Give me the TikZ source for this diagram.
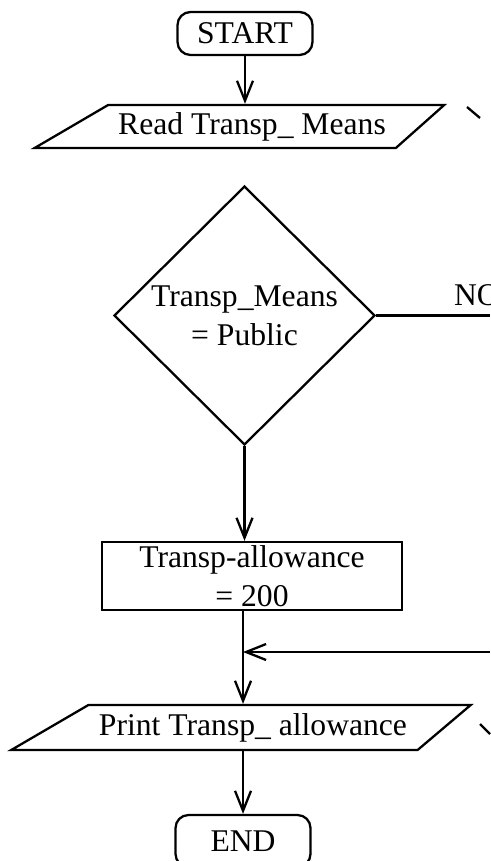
\documentclass[tikz,border=0pt]{standalone}
\usepackage{fontspec}
\setmainfont{Liberation Serif}
\usetikzlibrary{shapes.geometric,arrows.meta}

\begin{document}
\begin{tikzpicture}[x=0.02cm,y=-0.02cm,
	font=\fontsize{18}{22}\selectfont,
	line width=1.3pt,
	every node/.style={inner sep=0pt},
	terminal/.style={draw,rounded corners=0.26cm,minimum width=2.7cm,minimum height=0.86cm},
	io/.style={draw,trapezium,trapezium stretches=true,inner xsep=0pt},
	decision/.style={draw,diamond,align=center,minimum width=5.22cm,minimum height=5.18cm},
	process/.style={draw,align=center,minimum width=6cm,minimum height=1.36cm},
	arr/.style={-{Straight Barb[length=4mm,width=3.2mm]}}]
	\useasboundingbox (0,0) rectangle (490,861);
	
	\node[terminal] (start) at (245,33.5) {START};
	\node[io,inner ysep=0.1cm,trapezium left angle=29.5,trapezium right angle=139.3,minimum width=8.2cm,minimum height=0.86cm] (read) at (252,126.5) {Read Transp\_ Means};
	\node[decision] (test) at (244.5,315.5) {Transp\_Means\\= Public};
	\node[process] (allow) at (252,576) {Transp-allowance\\= 200};
	\node[io,inner ysep=0.12cm,trapezium left angle=29.4,trapezium right angle=140.7,minimum width=9.22cm,minimum height=0.9cm] (print) at (253,727.5) {Print Transp\_ allowance};
	\node[terminal,minimum height=1.04cm] (end) at (243,841) {END};
	\node[anchor=base west] (no) at (453,305) {NO};
	
	% ends running off the page
	\coordinate (noend) at (490,315.5);
	\coordinate (join) at (243,652);
	\coordinate (back) at (490,652);
	\coordinate (cuta) at (467,107);
	\coordinate (cutb) at (480,118);
	\coordinate (cutc) at (480,724);
	\coordinate (cutd) at (490,734);
	
	\draw[arr] (start.south) -- (start.south |- read.north);
	\draw (test.east) -- (noend);
	\draw[arr] (test.south) -- (test.south |- allow.north);
	\draw (join |- allow.south) -- (join);
	\draw[arr] (back) -- (join);
	\draw[arr] (join) -- (join |- print.north);
	\draw[arr] (end.north |- print.south) -- (end.north);
	\draw (cuta) -- (cutb);
	\draw (cutc) -- (cutd);
\end{tikzpicture}
\end{document}
